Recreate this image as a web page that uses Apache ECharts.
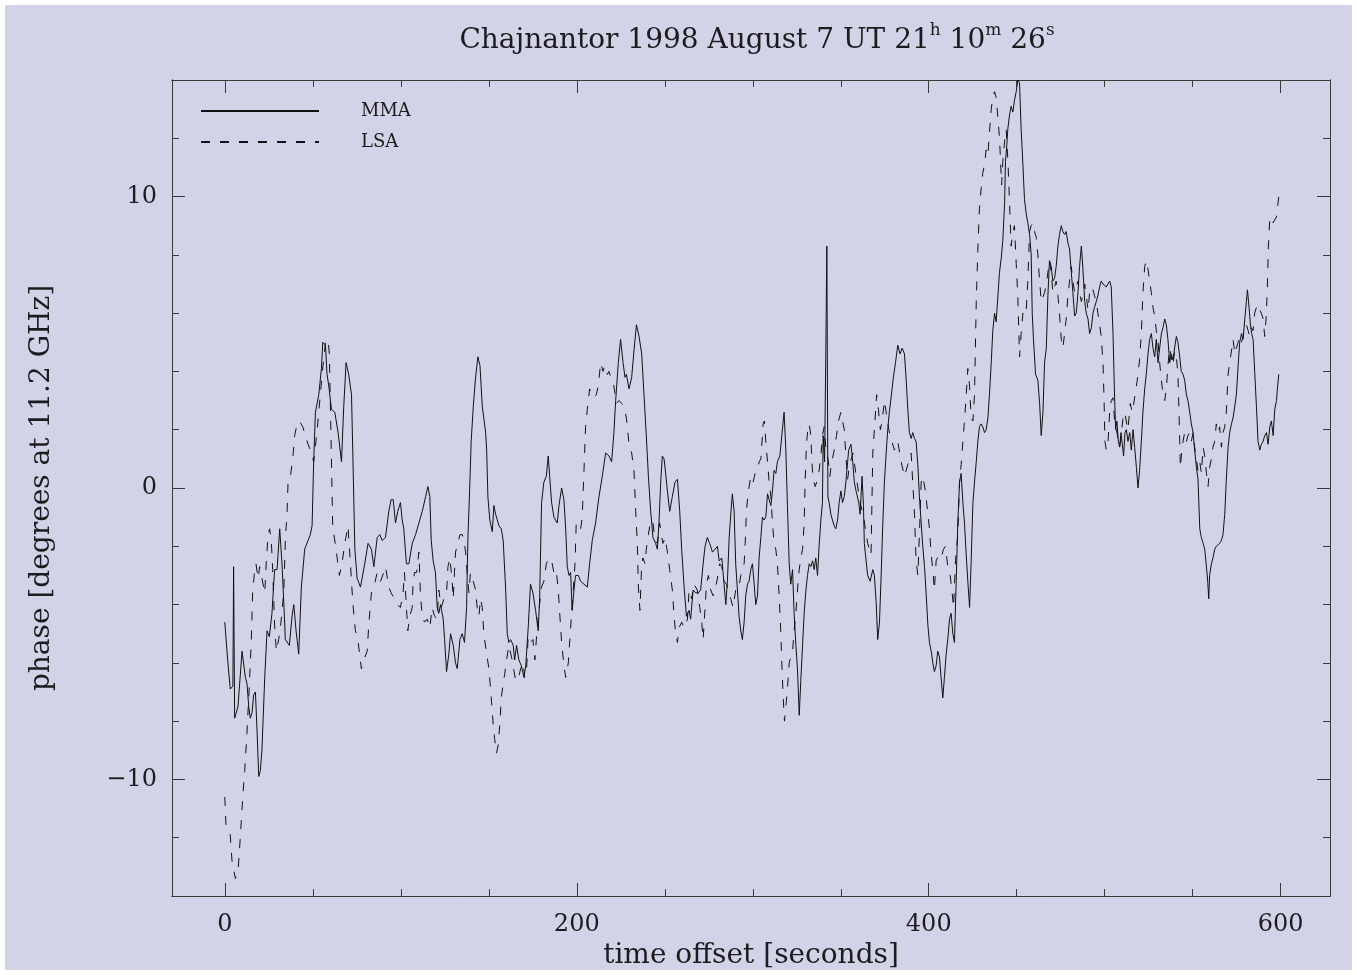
<!DOCTYPE html>
<html>
<head>
<meta charset="utf-8">
<script src="https://cdn.jsdelivr.net/npm/echarts@6/dist/echarts.min.js"></script>
<style>
  html, body { margin: 0; padding: 0; background: #ffffff; }
  #paper { position: absolute; left: 5px; top: 5px; width: 1347px; height: 965px; background: #d3d3e8; }
  #chart { position: absolute; left: 0; top: 0; width: 1357px; height: 975px; }
</style>
</head>
<body>
<div id="paper"></div>
<div id="chart"></div>
<script type="text/javascript">
// phase time series: [time offset s, phase deg]
var mma = [
  [0,-4.6],[1.5,-5.8],[3.1,-6.9],[4.6,-6.8],[5.0,-2.7],[5.6,-7.9],[7.5,-7.5],[9.8,-5.6],[11.7,-6.5],[12.6,-6.7],
  [13.6,-7.5],[14.5,-7.9],[15.5,-7.7],[16.4,-7.1],[17.4,-7.0],[18.3,-8.3],[19.3,-9.9],[20.2,-9.7],[21.1,-9.0],[22.7,-6.5],
  [24.0,-4.9],[25.3,-5.1],[26.8,-4.3],[28.3,-2.8],[29.7,-2.8],[31.2,-1.4],[32.5,-2.6],[33.5,-3.9],[34.4,-5.2],[35.4,-5.2],
  [36.7,-5.4],[38.2,-4.4],[39.2,-4.0],[40.5,-4.9],[42,-5.7],[43.5,-3.4],[45.4,-2.1],[47.3,-1.8],[48.6,-1.6],[49.6,-1.3],
  [50.5,0.9],[51.5,2.6],[53.4,3.2],[54.9,4.1],[55.7,5.0],[57.2,4.9],[58.1,3.9],[59.1,3.5],[60.6,2.7],[62.5,2.6],
  [64.4,1.9],[66.3,0.9],[67.6,2.8],[68.9,4.3],[70.4,3.9],[72,3.2],[72.7,1.3],[73.9,-2.1],[75.2,-3.1],[77.1,-3.4],
  [79.5,-2.6],[81.4,-1.9],[83.3,-2.1],[84.7,-2.7],[86.6,-1.7],[88.1,-1.6],[89.4,-1.8],[91.3,-1.7],[93.2,-0.8],[94.5,-0.4],
  [95.7,-0.4],[97,-1.2],[98.3,-0.8],[99.8,-0.5],[100.8,-1.1],[101.7,-1.4],[103.2,-2.6],[104.6,-2.6],[106.5,-1.9],[108.4,-1.6],
  [110.3,-1.2],[112.2,-0.8],[114.1,-0.3],[115.4,0.05],[116.5,-0.3],[117.3,-1.8],[118.4,-2.5],[119.7,-2.9],[120.7,-4.1],[121.6,-4.3],
  [122.6,-4.0],[124.1,-4.5],[124.9,-5.2],[126,-6.3],[127.3,-5.7],[128.3,-5.0],[129.8,-5.4],[131.1,-6.0],[132.1,-6.2],[133.6,-5.2],
  [134.9,-5.0],[136.2,-5.3],[137.4,-4.1],[138.1,-1.8],[139.1,-0.1],[140,1.6],[141.2,2.8],[142.5,3.8],[143.8,4.5],[145,4.2],
  [146.3,2.8],[147.6,2.2],[148.2,1.9],[148.8,1.3],[149.5,-0.3],[150.6,-1.1],[152,-1.5],[152.9,-0.6],[153.9,-0.9],[155.8,-1.3],
  [157.1,-1.4],[158.2,-1.8],[159.6,-3.5],[160.5,-5.0],[161.4,-5.3],[162.4,-5.2],[163.9,-5.4],[164.7,-5.9],[165.8,-5.4],[167.1,-5.9],
  [168.5,-6.1],[170,-6.5],[171,-6.1],[172.4,-4.8],[173.7,-3.3],[175.1,-3.6],[176.6,-4.2],[178.1,-4.9],[178.9,-3.8],[180,-0.5],
  [181.3,0.2],[182.7,0.4],[183.8,1.1],[184.6,0.4],[185.7,-0.5],[187,-1.0],[188.9,-1.2],[189.9,-0.6],[191.4,0.0],[192.7,-0.4],
  [193.7,-1.4],[194.6,-2.7],[195.6,-3.0],[196.5,-2.9],[197.4,-4.2],[198.4,-3.5],[199.3,-3.0],[200.9,-3.0],[202.2,-3.2],[204.1,-3.3],
  [206,-3.4],[207.3,-2.6],[208.8,-1.8],[210.7,-1.2],[212.6,-0.3],[214.5,0.4],[216.4,1.2],[218.3,1.1],[219.8,0.9],[221.1,1.9],
  [222.1,3.0],[223.6,4.3],[224.9,5.1],[226.3,4.3],[227.4,3.8],[228.2,3.9],[229.7,3.4],[231.2,3.8],[232.5,4.7],[233.9,5.6],
  [235.4,5.2],[236.9,4.6],[238.2,3.2],[239.5,1.8],[240.7,0.4],[242,-0.8],[243.3,-1.7],[244.8,-1.9],[245.8,-2.1],[246.7,-1.2],
  [247.7,0.2],[248.6,1.1],[249.6,1.0],[250.5,0.5],[251.5,-0.1],[252.8,-0.8],[254.3,-0.3],[255.8,0.2],[257.2,0.3],[258.5,-0.8],
  [259.6,-2.1],[261,-3.4],[262.3,-4.4],[263.8,-4.2],[264.7,-4.5],[266.1,-3.5],[267.6,-3.6],[269.1,-3.6],[270.4,-3.5],[271.8,-2.6],
  [272.9,-2.0],[274.2,-1.7],[275.5,-1.9],[277.1,-2.2],[278.6,-2.1],[279.9,-2.0],[280.9,-2.5],[282.4,-2.4],[283.7,-3.3],[284.7,-4.0],
  [285.6,-3.2],[286.6,-1.7],[287.5,-0.9],[288.4,-0.2],[289.4,-0.8],[290.3,-2.6],[291.3,-3.5],[292.2,-4.4],[293.2,-4.9],[294.1,-5.2],
  [295.1,-4.6],[296,-3.7],[297,-3.3],[297.9,-3.2],[298.9,-2.8],[299.8,-2.6],[300.8,-3.3],[301.7,-4.0],[302.7,-3.7],[303.6,-2.4],
  [304.6,-1.7],[305.5,-1.0],[306.5,-1.1],[307.4,-1.0],[308.4,-0.2],[309.3,-0.4],[310.3,-0.6],[311.2,-0.1],[312.1,0.6],[313.1,0.5],
  [314,0.9],[315.4,1.1],[316.5,1.8],[317.8,2.6],[318.8,1.3],[319.7,-0.6],[320.7,-2.6],[321.6,-3.3],[322.6,-2.8],[323.5,-4.3],
  [324.5,-5.4],[325.4,-6.2],[326.4,-7.8],[327.3,-6.6],[328.3,-5.4],[329.2,-4.3],[330.2,-3.5],[331.1,-3.0],[332.1,-2.6],[333,-2.7],
  [334,-2.5],[334.9,-2.8],[335.8,-2.4],[336.8,-3.0],[337.7,-2.0],[338.7,-1.1],[339.6,-0.5],[340,1.8],[340.8,0.9],[341.5,4.5],
  [342.1,8.3],[342.7,-0.3],[343.4,-0.5],[344.4,-0.9],[345.3,-1.1],[346.3,-1.3],[347.2,-1.4],[348.2,-1.1],[349.1,-0.5],[350.1,-0.1],
  [351,-0.5],[352,-0.3],[352.9,0.2],[353.9,0.9],[354.5,1.3],[355.8,1.5],[356.8,0.9],[357.7,0.2],[358.7,-0.1],[360.2,-0.5],
  [361,-0.9],[362.1,0.4],[362.9,-0.6],[363.4,-1.9],[364.4,-2.5],[365.3,-3.0],[366.7,-3.2],[368.2,-2.8],[369.1,-3.0],[370.1,-3.9],
  [371,-5.2],[372,-4.6],[372.9,-3.1],[373.9,-1.2],[374.8,0.2],[375.8,1.2],[376.7,2.0],[377.6,2.6],[378.6,3.1],[379.9,3.8],
  [381.1,4.3],[382.4,4.9],[383.7,4.6],[384.9,4.8],[386.2,4.6],[387.1,3.8],[388.1,2.7],[389,1.9],[390,1.7],[390.9,1.9],
  [391.9,1.7],[392.8,1.6],[393.8,0.8],[394.7,-0.3],[395.7,-1.2],[396.6,-2.0],[397.6,-2.7],[398.5,-3.6],[399.5,-4.7],[400.4,-5.3],
  [401.4,-5.6],[402.3,-6.0],[403.2,-6.3],[404.2,-6.1],[405.1,-5.6],[406.1,-5.8],[407,-6.5],[408,-7.2],[408.9,-6.5],[409.9,-5.7],
  [410.8,-5.2],[411.8,-4.5],[412.7,-4.3],[413.7,-5.0],[414.6,-5.3],[415.6,-3.2],[416.5,-1.2],[417.5,0.2],[418.4,0.5],[419.4,-0.5],
  [420.3,-1.2],[421.3,-2.3],[422.2,-3.2],[423.2,-4.1],[424.1,-2.5],[425.1,-0.5],[426,0.2],[427,0.9],[427.9,1.6],[428.8,2.1],
  [429.8,2.2],[430.7,2.1],[431.7,1.9],[432.6,2.0],[433.6,2.4],[434.5,3.2],[435.5,4.3],[436.4,5.4],[437.4,6.0],[438.3,5.7],
  [439.3,5.7],[440.2,7.4],[441.2,7.9],[442.1,8.5],[443.1,9.8],[443.6,11.2],[444.4,11.8],[444.9,12.3],[445.9,12.8],[446.8,13.1],
  [447.8,12.9],[448.7,13.3],[449.7,13.6],[450.6,14.0],[451.6,13.9],[452.5,12.3],[453.5,11.1],[454.4,9.9],[455.4,9.4],[456.3,9.1],
  [457.3,8.7],[458.2,8.0],[458.8,6.0],[459.5,5.1],[460.7,3.9],[462,3.7],[463,2.9],[463.9,1.8],[464.9,2.6],[465.8,4.3],
  [466.8,4.8],[467.7,6.6],[468.6,7.8],[469.6,7.6],[470.5,7.1],[471.5,7.2],[472.4,7.6],[473.4,8.3],[474.3,8.7],[475.3,9.0],
  [476.2,8.8],[477.2,8.7],[478.1,8.8],[479.1,8.4],[480,8.2],[481,7.4],[481.9,6.7],[482.9,5.9],[483.8,6.0],[484.8,6.7],
  [485.7,7.6],[486.7,8.3],[487.2,7.9],[488,7.1],[488.6,6.4],[489.5,6.0],[490.5,5.8],[491.4,5.3],[492.4,5.5],[493.3,6.0],
  [494.2,6.2],[495.2,6.4],[496.1,6.6],[497.1,6.9],[498,7.1],[499,7.0],[499.9,7.0],[500.9,6.9],[501.8,7.0],[502.8,7.1],
  [503.7,6.9],[504.7,5.3],[505.6,3.1],[506.2,2.0],[506.9,2.3],[507.7,1.6],[508.5,1.4],[509.2,1.9],[510,1.5],[510.7,1.1],
  [511.5,1.9],[512.3,2.0],[513.2,1.6],[514.2,1.9],[515.1,1.3],[516.1,2.0],[517,1.4],[518,0.7],[518.9,0.0],[519.8,0.6],
  [520.8,1.6],[521.7,2.6],[522.7,3.4],[523.6,3.9],[524.6,4.6],[525.5,5.1],[526.5,5.3],[527.4,4.8],[528.4,4.5],[529.3,5.1],
  [530.3,4.3],[531.2,4.8],[532.2,5.3],[533.1,5.5],[534.1,5.8],[535,5.6],[535.9,5.1],[536.9,4.3],[537.8,4.6],[538.8,4.4],
  [539.7,4.8],[540.7,5.2],[541.6,5.0],[542.6,4.5],[543.5,4.0],[544.5,3.9],[545.4,3.7],[546.4,3.2],[547.3,3.0],[548.3,2.6],
  [549.2,2.2],[550.2,1.9],[551.1,1.3],[552.1,0.7],[553,0.3],[554,-1.4],[554.9,-1.7],[555.9,-1.9],[556.8,-2.1],[557.8,-2.7],
  [558.5,-3.2],[559.1,-3.8],[559.6,-3.0],[560.6,-2.6],[561.5,-2.4],[562.5,-2.1],[563.4,-2.0],[564.4,-2.0],[565.3,-1.9],[566.3,-1.8],
  [567.2,-1.6],[568.2,-0.9],[569.1,0.3],[570.1,1.4],[571,1.9],[572,2.2],[572.9,2.4],[573.9,2.8],[574.8,3.2],[575.8,4.2],
  [576.7,5.0],[577.7,5.3],[578.6,5.1],[579.6,5.8],[580.5,6.4],[581.1,6.8],[582,6.2],[582.8,5.6],[583.5,5.3],[584.3,5.1],
  [585.2,4.0],[586.2,2.8],[587.1,1.6],[588.1,1.3],[589,1.5],[590,1.6],[590.9,1.8],[591.9,1.9],[592.8,1.5],[593.8,2.1],
  [594.7,2.3],[595.7,1.8],[596.6,2.7],[597.6,3.0],[598.1,3.4],[598.9,3.9]
];

var lsa = [
  [0,-10.6],[0.7,-11.6],[3.1,-11.9],[4.1,-12.8],[6,-13.4],[7.5,-13.2],[8.8,-12.0],[10.1,-10.7],[11.3,-9.7],[12.6,-8.4],
  [14,-6.7],[15.1,-5.2],[15.8,-3.6],[17,-2.8],[17.7,-2.6],[18.9,-3.1],[19.8,-2.7],[21.1,-3.1],[22.7,-3.6],[23.6,-2.5],
  [24.6,-1.6],[25.5,-1.4],[26.5,-1.9],[27.2,-2.8],[28.3,-4.7],[29.3,-5.6],[30.6,-5.2],[31.6,-4.8],[33.5,-3.6],[34.4,-1.8],
  [35.4,-0.8],[36,0.3],[37.3,0.4],[38.6,1.0],[39.7,1.8],[41.1,2.2],[42.4,2.3],[44.3,2.1],[45.8,1.8],[47.3,1.5],
  [48.6,1.3],[50.5,0.9],[52.5,2.0],[55.3,3.9],[57.2,5.0],[58.7,5.1],[59.4,4.6],[60.6,1.0],[61.3,-1.3],[63.2,-2.1],
  [65.1,-3.0],[66.6,-2.6],[68.2,-1.9],[70,-1.3],[71.4,-2.6],[72.7,-3.9],[74.2,-4.9],[75.8,-5.3],[77.6,-6.2],[79,-5.9],
  [80.9,-5.6],[81.8,-4.7],[83.3,-3.6],[84.7,-3.4],[86.6,-2.9],[88.5,-3.2],[90.3,-2.9],[91.3,-2.7],[93.2,-3.4],[94.5,-3.6],
  [96.4,-3.8],[98,-4.0],[99.8,-4.1],[101.3,-3.6],[102.1,-2.9],[103.2,-4.1],[104,-4.9],[105.1,-4.4],[106.5,-4.1],[107,-3.2],
  [107.8,-2.9],[109,-2.9],[110.3,-2.2],[111.2,-3.7],[112.2,-4.4],[113.5,-4.6],[115,-4.5],[116.5,-4.8],[117.8,-4.1],[119.2,-4.4],
  [120.7,-4.5],[121.6,-3.5],[123,-4.1],[124.5,-3.8],[126,-3.6],[126.8,-2.7],[127.9,-2.4],[129.2,-3.2],[129.8,-3.8],[130.5,-2.9],
  [131.1,-2.2],[132.4,-1.9],[133.6,-1.6],[134.9,-1.6],[135.9,-1.8],[136.8,-2.2],[137.7,-2.9],[138.7,-3.6],[139.6,-2.9],[141.2,-3.2],
  [142.5,-3.5],[143.4,-4.1],[144.4,-4.4],[145.3,-3.8],[146.3,-4.1],[147.2,-5.0],[148.8,-5.7],[150.1,-6.2],[151.4,-7.2],[152.5,-8.1],
  [153.3,-8.6],[154.4,-9.1],[155.4,-8.8],[156.3,-8.1],[157.1,-7.2],[158.2,-6.7],[159,-6.4],[160.1,-5.9],[161.4,-5.4],[163.3,-5.9],
  [165.2,-6.6],[166.6,-6.6],[168.1,-6.2],[169.6,-6.0],[170.4,-6.5],[171.5,-6.2],[172.4,-5.1],[173.7,-5.3],[175.1,-5.2],[176.2,-5.9],
  [177.5,-4.8],[178.5,-4.2],[180,-3.4],[181.3,-3.2],[182.7,-2.6],[184.2,-2.4],[185.7,-2.5],[187,-2.9],[188.3,-2.8],[189.5,-3.5],
  [190.2,-4.2],[191.4,-5.3],[192.7,-6.1],[193.7,-6.5],[195.2,-6.0],[196.5,-4.8],[197.8,-3.7],[199,-2.6],[199.7,-1.2],[200.9,-1.2],
  [202.2,-1.4],[203.1,-1.0],[204.1,0.6],[205,2.1],[206,2.7],[207.3,3.4],[208.4,3.4],[209.8,3.1],[211.1,3.2],[212.2,3.5],
  [213.6,4.3],[214.9,4.0],[216,4.2],[217.4,3.9],[218.3,4.0],[219.8,3.7],[221.1,3.5],[222.5,2.9],[224,3.0],[225.5,2.9],
  [226.8,2.8],[228.2,2.4],[229.7,1.5],[231.2,1.2],[232.5,0.6],[233.5,-0.8],[234.4,-1.9],[235,-3.4],[235.9,-4.2],[236.9,-2.6],
  [237.6,-2.4],[238.8,-2.6],[239.5,-2.1],[240.7,-1.6],[242,-1.1],[243.3,-1.2],[244.5,-1.8],[245.8,-1.9],[247.1,-1.2],[248.3,-1.7],
  [249,-1.9],[250.2,-1.7],[251.5,-2.2],[252.8,-2.8],[254.3,-3.5],[255.3,-4.4],[256.2,-5.0],[257.2,-5.3],[258.1,-4.8],[259.6,-4.6],
  [261,-4.8],[262.9,-4.5],[263.8,-3.5],[265.3,-3.8],[266.6,-3.3],[268.5,-3.5],[269.9,-4.1],[271,-4.6],[271.8,-5.2],[272.9,-4.1],
  [273.7,-3.3],[274.8,-3.0],[276.1,-3.5],[277.5,-3.7],[278.6,-3.5],[279.3,-3.3],[280.5,-2.9],[281.2,-2.6],[282.4,-2.7],[283.7,-3.2],
  [285,-3.3],[286.2,-3.5],[287.5,-3.8],[288.8,-4.1],[290.3,-3.5],[291.9,-3.5],[293.2,-3.0],[294.1,-2.8],[295.1,-2.6],[295.7,-1.9],
  [296.4,-0.8],[297.5,-0.1],[298.9,0.4],[300.2,0.2],[301.3,0.5],[302.7,0.6],[303.6,0.9],[304.6,1.0],[305.5,1.8],[305.9,2.2],
  [306.6,2.3],[307.4,1.6],[308.4,0.9],[309.3,0.2],[310.3,-0.3],[311.2,-1.2],[312.1,-1.9],[313.1,-2.1],[314,-2.6],[315,-3.7],
  [315.9,-4.9],[316.5,-6.0],[317.3,-7.2],[318,-8.0],[318.8,-7.5],[319.7,-6.9],[320.7,-6.0],[321.6,-5.8],[322.6,-5.6],[323.5,-4.9],
  [324.5,-4.3],[325.4,-3.5],[326.4,-2.8],[327.3,-2.4],[328.3,-2.1],[329.2,-1.2],[329.8,0.3],[330.5,1.5],[331.3,2.0],[332.1,2.2],
  [333,1.8],[333.6,0.9],[334.3,0.3],[335.5,0.05],[336.8,0.3],[337.7,0.6],[338.7,1.1],[339.6,1.8],[340.6,2.1],[341.5,1.4],
  [343,0.9],[343.8,0.4],[344.9,0.9],[346.3,1.3],[347.6,1.8],[348.7,2.3],[350.1,2.6],[351,2.3],[352,2.0],[352.9,1.1],
  [353.9,0.3],[355,0.8],[357,1.2],[359,0.3],[361,-0.5],[363,-1.0],[365.3,-1.9],[367.2,-2.3],[368.2,1.2],[369.1,2.0],
  [370.4,3.2],[371.4,2.7],[372.5,2.0],[373.5,2.3],[374.8,3.0],[375.8,2.6],[377.3,2.0],[378.6,1.7],[380.5,1.3],[382.4,1.6],
  [384.3,0.9],[386.2,0.4],[388.1,0.8],[390,1.2],[390.9,0.2],[391.9,-0.9],[392.8,-2.5],[393.8,-3.0],[394.7,-1.6],[395.7,0.2],
  [396.6,0.4],[398.1,-0.1],[399.5,-0.9],[400.4,-1.4],[401.4,-2.3],[402.3,-2.8],[403.2,-3.5],[404.2,-2.5],[405.7,-2.3],[407,-2.4],
  [408.4,-2.1],[409.5,-2.0],[410.8,-2.7],[412.2,-3.0],[413.3,-3.6],[414.1,-4.1],[415.2,-2.5],[416.5,-1.6],[417.5,0.2],[418.4,0.8],
  [419.4,1.6],[420.3,2.3],[421.3,3.2],[422.2,4.1],[423.2,3.5],[424.1,2.4],[425.1,2.3],[426,3.2],[427,6.4],[427.9,8.2],
  [428.8,9.6],[429.8,10.3],[430.7,10.8],[431.7,11.1],[432.6,11.6],[433.6,11.4],[434.5,12.2],[435.5,13.0],[436.4,13.4],[437.4,13.6],
  [438.3,13.4],[439.3,12.7],[440.2,12.0],[440.8,11.2],[441.4,10.4],[442.1,11.2],[443.1,11.9],[444,12.3],[445,11.2],[445.9,9.8],
  [446.8,8.3],[447.8,8.8],[448.7,9.0],[449.7,7.7],[450.6,6.6],[451.6,4.5],[452.5,5.3],[453.5,6.0],[454.4,5.9],[455.4,6.1],
  [456.3,7.1],[457.3,8.8],[458.2,9.0],[459.2,9.1],[460.1,8.8],[461.1,8.6],[462,8.0],[463,7.1],[463.9,6.4],[464.9,6.4],
  [465.8,6.7],[466.8,7.0],[467.7,7.4],[468.6,7.8],[469.6,7.4],[470.5,6.7],[471.5,6.7],[472.4,7.1],[473.4,6.6],[474.3,6.0],
  [475.3,5.1],[476.2,4.8],[477.2,5.3],[478.1,5.8],[479.1,6.6],[480,7.1],[481,7.6],[481.9,7.1],[482.9,6.7],[483.8,6.9],
  [484.8,7.1],[485.7,6.7],[486.7,6.4],[487.6,6.6],[488.6,7.0],[489.5,6.6],[490.5,6.1],[491.4,6.7],[492.4,6.9],[493.3,6.8],
  [494.2,6.6],[495.2,6.4],[496.1,6.0],[497.1,5.6],[498,5.2],[499,4.3],[499.6,3.1],[500.1,1.6],[500.9,1.3],[501.8,1.5],
  [502.8,2.6],[503.7,3.0],[504.7,3.1],[505.6,2.3],[506.6,2.0],[508.5,1.4],[510.4,2.4],[511.3,2.6],[512.3,2.6],[513.2,2.0],
  [514.5,2.9],[515.7,2.6],[517,3.1],[518,3.5],[518.9,3.9],[519.8,4.4],[520.8,5.3],[521.7,6.7],[522.7,7.6],[523.6,7.8],
  [524.6,7.5],[525.5,7.1],[526.5,6.7],[527.4,6.2],[528.4,5.9],[529.3,5.4],[530.3,5.0],[531.2,4.3],[532.2,3.7],[533.1,3.2],
  [534.1,3.0],[535,3.4],[535.9,4.2],[536.9,4.8],[537.8,4.5],[538.8,4.2],[539.7,4.7],[540.7,4.5],[541.6,3.9],[542.2,2.6],
  [542.6,1.6],[543,0.7],[543.5,1.1],[544.5,1.6],[545.4,1.9],[546.4,1.6],[547.3,1.8],[548.3,1.9],[549.2,1.6],[550.2,1.9],
  [551.1,1.4],[552.1,1.0],[553,0.6],[554,0.9],[554.9,0.5],[555.9,1.4],[556.8,1.1],[557.8,0.5],[558.7,0.05],[559.6,0.7],
  [560.6,1.0],[561.5,1.4],[562.5,1.6],[563.4,2.2],[564.4,1.9],[565.3,2.1],[566.3,1.4],[567.2,1.9],[568.2,2.1],[569.1,2.6],
  [570.1,3.9],[571,4.3],[572,4.7],[572.9,5.1],[573.9,4.6],[574.8,4.8],[575.8,5.0],[576.7,5.2],[577.7,5.0],[578.6,5.2],
  [579.6,5.5],[580.5,5.6],[581.5,5.4],[582.4,5.2],[583.3,5.5],[584.3,5.4],[585.2,6.0],[586.2,6.2],[587.1,6.3],[588.1,6.1],
  [589,6.0],[590,5.8],[590.9,5.2],[591.9,6.0],[592.5,7.1],[593,8.3],[593.8,9.3],[594.7,9.2],[595.7,9.1],[596.6,9.2],
  [597.6,9.3],[598.1,9.6],[598.9,10.0]
];

var xMajor = [0, 200, 400, 600];
var xMinor = [50, 100, 150, 250, 300, 350, 450, 500, 550];
var yMajor = [-10, 0, 10];
var yMinor = [-12, -8, -6, -4, -2, 2, 4, 6, 8, 12];

var FONT = 'DejaVu Serif';
var INK = '#1c1c1c';
var FRAME = '#3a3a3a';

function xAxisDef(position, ticks, len, withLabel) {
  return {
    type: 'value', position: position, min: -30, max: 628,
    axisLine: { show: true, onZero: false, lineStyle: { color: FRAME, width: 1 } },
    axisTick: { show: true, inside: true, length: len, customValues: ticks, lineStyle: { color: FRAME, width: 1 } },
    axisLabel: withLabel ? {
      show: true, customValues: ticks, margin: 17,
      fontFamily: FONT, fontSize: 24, color: INK
    } : { show: false },
    splitLine: { show: false }
  };
}
function yAxisDef(position, ticks, len, withLabel) {
  return {
    type: 'value', position: position, min: -14, max: 14,
    axisLine: { show: true, onZero: false, lineStyle: { color: FRAME, width: 1 } },
    axisTick: { show: true, inside: true, length: len, customValues: ticks, lineStyle: { color: FRAME, width: 1 } },
    axisLabel: withLabel ? {
      show: true, customValues: ticks, margin: 15,
      fontFamily: FONT, fontSize: 24, color: INK,
      formatter: function (v) { return v < 0 ? '\u2212' + Math.abs(v) : String(v); }
    } : { show: false },
    splitLine: { show: false }
  };
}

var xb = xAxisDef('bottom', xMajor, 13, true);
xb.name = 'time offset [seconds]';
xb.nameLocation = 'middle';
xb.nameGap = 46;
xb.nameTextStyle = { fontFamily: FONT, fontSize: 28, color: INK };

var yl = yAxisDef('left', yMajor, 13, true);
yl.name = 'phase [degrees at 11.2 GHz]';
yl.nameLocation = 'middle';
yl.nameGap = 116;
yl.nameTextStyle = { fontFamily: FONT, fontSize: 28, color: INK };

var chart = echarts.init(document.getElementById('chart'), null, { renderer: 'canvas' });
chart.setOption({
  backgroundColor: 'transparent',
  animation: false,
  title: {
    text: 'Chajnantor 1998 August 7 UT 21{s|h} 10{s|m} 26{s|s}',
    left: 752, top: 17, textAlign: 'center',
    textStyle: {
      fontFamily: FONT, fontSize: 28, fontWeight: 'normal', color: INK, lineHeight: 38,
      rich: { s: { fontFamily: FONT, fontSize: 17, color: INK, verticalAlign: 'top', lineHeight: 18 } }
    }
  },
  legend: {
    orient: 'vertical', left: 195, top: 97,
    itemWidth: 118, itemHeight: 14, itemGap: 13,
    itemStyle: { opacity: 0 },
    textStyle: { fontFamily: FONT, fontSize: 18, color: INK, padding: [0, 0, 0, 37] },
    data: ['MMA', 'LSA']
  },
  grid: { left: 172, top: 80, width: 1158, height: 816, containLabel: false },
  xAxis: [
    xb,
    xAxisDef('bottom', xMinor, 7, false),
    xAxisDef('top', xMajor, 13, false),
    xAxisDef('top', xMinor, 7, false)
  ],
  yAxis: [
    yl,
    yAxisDef('left', yMinor, 7, false),
    yAxisDef('right', yMajor, 13, false),
    yAxisDef('right', yMinor, 7, false)
  ],
  series: [
    {
      name: 'MMA', type: 'line', data: mma, symbol: 'none', showSymbol: false,
      xAxisIndex: 0, yAxisIndex: 0,
      lineStyle: { color: '#111111', width: 1, type: 'solid' },
      itemStyle: { color: '#111111' }
    },
    {
      name: 'LSA', type: 'line', data: lsa, symbol: 'none', showSymbol: false,
      xAxisIndex: 0, yAxisIndex: 0,
      lineStyle: { color: '#111111', width: 1, type: [9, 10] },
      itemStyle: { color: '#111111' }
    }
  ]
});
</script>
</body>
</html>
